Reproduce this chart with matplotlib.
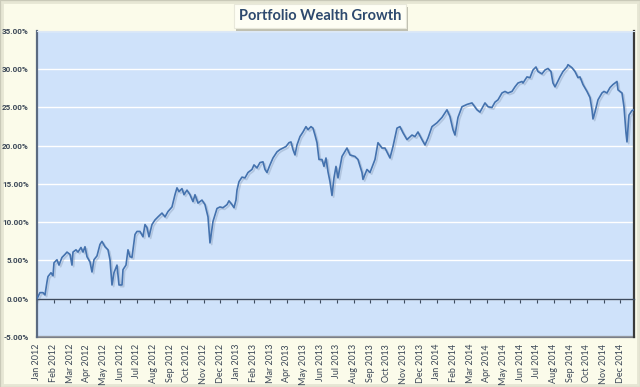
import matplotlib
matplotlib.use("Agg")
import matplotlib.pyplot as plt
import matplotlib.patheffects as pe
from matplotlib.patches import Rectangle
from matplotlib.ticker import FuncFormatter, FixedLocator

# months elapsed since 1 Jan 2012 (fractional)
months = [0.00, 0.18, 0.36, 0.48, 0.60, 0.66, 0.84, 0.96, 1.02, 1.20, 1.32, 1.50, 1.68, 1.80, 1.98,
          2.10, 2.16, 2.34, 2.46, 2.64, 2.76, 2.88, 3.00, 3.18, 3.30, 3.42, 3.60, 3.78, 3.90, 4.08,
          4.26, 4.38, 4.50, 4.62, 4.80, 4.92, 5.10, 5.16, 5.34, 5.46, 5.58, 5.70, 5.88, 6.00, 6.18,
          6.36, 6.48, 6.60, 6.72, 6.90, 7.08, 7.26, 7.50, 7.68, 7.86, 8.10, 8.28, 8.40, 8.52, 8.70,
          8.82, 9.00, 9.18, 9.36, 9.48, 9.66, 9.90, 10.08, 10.26, 10.38, 10.56, 10.80, 10.98, 11.16,
          11.40, 11.52, 11.70, 11.82, 11.94, 12.00, 12.12, 12.30, 12.48, 12.66, 12.90, 13.02, 13.20,
          13.38, 13.56, 13.68, 13.80, 13.98, 14.16, 14.40, 14.58, 14.76, 14.94, 15.12, 15.24, 15.36,
          15.48, 15.60, 15.78, 15.96, 16.14, 16.26, 16.44, 16.56, 16.68, 16.80, 16.92, 17.10, 17.22,
          17.34, 17.46, 17.58, 17.70, 17.82, 17.94, 18.06, 18.30, 18.60, 18.78, 19.08, 19.26, 19.50,
          19.56, 19.80, 19.98, 20.28, 20.46, 20.70, 20.88, 21.18, 21.36, 21.60, 21.78, 21.96, 22.20,
          22.50, 22.68, 22.86, 23.10, 23.28, 23.46, 23.70, 24.00, 24.30, 24.60, 24.78, 24.96, 25.08,
          25.26, 25.50, 25.80, 26.10, 26.40, 26.58, 26.88, 27.06, 27.30, 27.48, 27.66, 27.90, 28.08,
          28.26, 28.50, 28.68, 28.86, 29.10, 29.16, 29.40, 29.58, 29.76, 29.94, 30.06, 30.30, 30.48,
          30.66, 30.84, 30.96, 31.08, 31.20, 31.38, 31.56, 31.80, 31.86, 32.10, 32.28, 32.46, 32.58,
          32.76, 33.00, 33.18, 33.30, 33.36, 33.48, 33.66, 33.90, 34.02, 34.20, 34.38, 34.56, 34.80,
          34.86, 35.10, 35.22, 35.34, 35.40, 35.52, 35.70, 35.82]

# cumulative wealth growth, percent
growth = [0.0, 0.8, 0.8, 0.5, 2.2, 2.9, 3.4, 3.0, 4.7, 5.1, 4.4, 5.4, 5.8, 6.1, 5.8,
          4.4, 6.1, 6.4, 6.1, 6.7, 6.1, 6.8, 5.5, 4.8, 3.5, 5.1, 5.6, 7.1, 7.5, 6.8,
          6.4, 5.1, 1.8, 3.4, 4.4, 1.8, 1.8, 3.8, 4.4, 6.4, 5.5, 5.4, 8.4, 8.8, 8.8,
          8.1, 9.7, 9.3, 8.1, 9.7, 10.3, 10.7, 11.2, 10.7, 11.4, 12.0, 13.6, 14.5, 14.0, 14.4,
          13.6, 14.2, 13.6, 12.7, 13.6, 12.5, 12.9, 12.3, 10.7, 7.3, 10.1, 11.8, 12.0, 11.9,
          12.3, 12.8, 12.3, 11.9, 12.9, 14.2, 15.3, 15.9, 15.8, 16.5, 16.9, 17.5, 17.1,
          17.8, 17.9, 16.9, 16.5, 17.5, 18.4, 19.2, 19.5, 19.7, 19.9, 20.4, 20.5, 19.5,
          18.8, 20.1, 21.2, 21.8, 22.5, 22.1, 22.5, 22.3, 21.4, 20.4, 18.2, 18.2, 17.3,
          18.4, 16.6, 15.3, 13.5, 15.8, 17.3, 15.8, 18.6, 19.7, 18.8, 18.6, 18.2, 16.5,
          15.6, 16.9, 16.5, 18.2, 20.4, 19.7, 19.7, 18.4, 19.9, 22.3, 22.5, 21.7, 20.8,
          21.4, 21.2, 21.8, 20.8, 20.1, 21.0, 22.5, 23.0, 23.7, 24.7, 23.8, 22.1, 21.4,
          23.7, 25.1, 25.4, 25.6, 24.7, 24.4, 25.6, 25.1, 25.0, 25.7, 26.0, 26.9, 27.1,
          26.9, 27.1, 27.7, 28.2, 28.4, 28.2, 29.0, 28.9, 29.9, 30.3, 29.7, 29.4, 29.9,
          30.1, 29.7, 28.2, 27.7, 28.2, 29.0, 29.7, 30.3, 30.6, 30.2, 29.7, 28.9, 29.0,
          28.0, 27.1, 26.3, 24.7, 23.5, 24.4, 26.0, 26.9, 27.1, 26.9, 27.6, 28.0, 28.4,
          27.3, 26.9, 25.1, 21.7, 20.5, 24.0, 24.6, 24.7]

month_labels = ["Jan 2012", "Feb 2012", "Mar 2012", "Apr 2012", "May 2012", "Jun 2012",
                "Jul 2012", "Aug 2012", "Sep 2012", "Oct 2012", "Nov 2012", "Dec 2012",
                "Jan 2013", "Feb 2013", "Mar 2013", "Apr 2013", "May 2013", "Jun 2013",
                "Jul 2013", "Aug 2013", "Sep 2013", "Oct 2013", "Nov 2013", "Dec 2013",
                "Jan 2014", "Feb 2014", "Mar 2014", "Apr 2014", "May 2014", "Jun 2014",
                "Jul 2014", "Aug 2014", "Sep 2014", "Oct 2014", "Nov 2014", "Dec 2014"]
y_ticks = [-5, 0, 5, 10, 15, 20, 25, 30, 35]

title = "Portfolio Wealth Growth"

FONT = "Lato"
label_color = "#3a4656"

fig = plt.figure(figsize=(6.4, 3.87), dpi=100)
fig.patch.set_facecolor("#FBFBEA")

# outer frame shading (behind everything)
fig.patches.append(Rectangle((0, 0), 1, 1, transform=fig.transFigure, fill=False,
                             edgecolor="#C9C9B8", linewidth=3, zorder=-10))
fig.patches.append(Rectangle((0.003, 0.004), 0.994, 0.990, transform=fig.transFigure, fill=False,
                             edgecolor="#E6E6D4", linewidth=2, zorder=-10))

ax = fig.add_axes([0.0578, 0.1292, 0.9328, 0.7907])
ax.set_zorder(1)
ax.set_facecolor("#CFE2FA")

ax.set_xlim(0, 35.82)
ax.set_ylim(-5, 35)

# gridlines
ax.yaxis.set_major_locator(FixedLocator(y_ticks))
ax.grid(axis="y", color="white", linewidth=1.0)
ax.set_axisbelow(True)

line, = ax.plot(months, growth, color="#4472AE", linewidth=1.2, zorder=3)
line.set_path_effects([pe.SimpleLineShadow(offset=(1.2, -1.2), shadow_color="#5a6f8f", alpha=0.25),
                       pe.Normal()])

# y axis formatting
ax.yaxis.set_major_formatter(FuncFormatter(lambda v, p: f"{v:.2f}%"))
ax.tick_params(axis="y", length=0, pad=6, labelsize=5.8, labelcolor=label_color)
for tl in ax.get_yticklabels():
    tl.set_fontfamily("Roboto")
    tl.set_fontweight("bold")

# x axis line at zero with month tick marks
ax.spines["bottom"].set_position(("data", 0))
ax.spines["bottom"].set_color("#3c4a5e")
ax.spines["bottom"].set_linewidth(1.0)
ax.xaxis.set_major_locator(FixedLocator(list(range(len(month_labels)))))
ax.tick_params(axis="x", length=3, width=0.8, color="#3c4a5e", direction="out", labelbottom=False)

ax.spines["left"].set_color("#5b6a80")
ax.spines["left"].set_linewidth(1.6)
ax.spines["right"].set_color("#3a3a3a")
ax.spines["right"].set_linewidth(1.6)
ax.spines["top"].set_color("#DDE8F5")
ax.spines["top"].set_linewidth(0.8)

# labels along the bottom of the plot area
sec = ax.secondary_xaxis("bottom")
sec.set_xticks(list(range(len(month_labels))))
sec.set_xticklabels(month_labels, rotation=90, fontsize=6.5, color=label_color, fontfamily=FONT)
sec.tick_params(axis="x", length=0, pad=5)
sec.spines["bottom"].set_color("#7a7f88")
sec.spines["bottom"].set_linewidth(1.6)

# title box with drop shadow
t = fig.text(0.5, 0.958, title, ha="center", va="center", fontsize=10.5, fontweight="bold",
             color="#2E4A6E", fontfamily=FONT, zorder=5,
             bbox=dict(boxstyle="square,pad=0.35", facecolor="#FEFEF4", edgecolor="#E8E8DA",
                       linewidth=0.8))
t.get_bbox_patch().set_path_effects([pe.SimplePatchShadow(offset=(1.5, -2), shadow_rgbFace="#9a9a8c",
                                                          alpha=0.6), pe.Normal()])

fig.savefig("out.png", dpi=100, facecolor=fig.get_facecolor())
